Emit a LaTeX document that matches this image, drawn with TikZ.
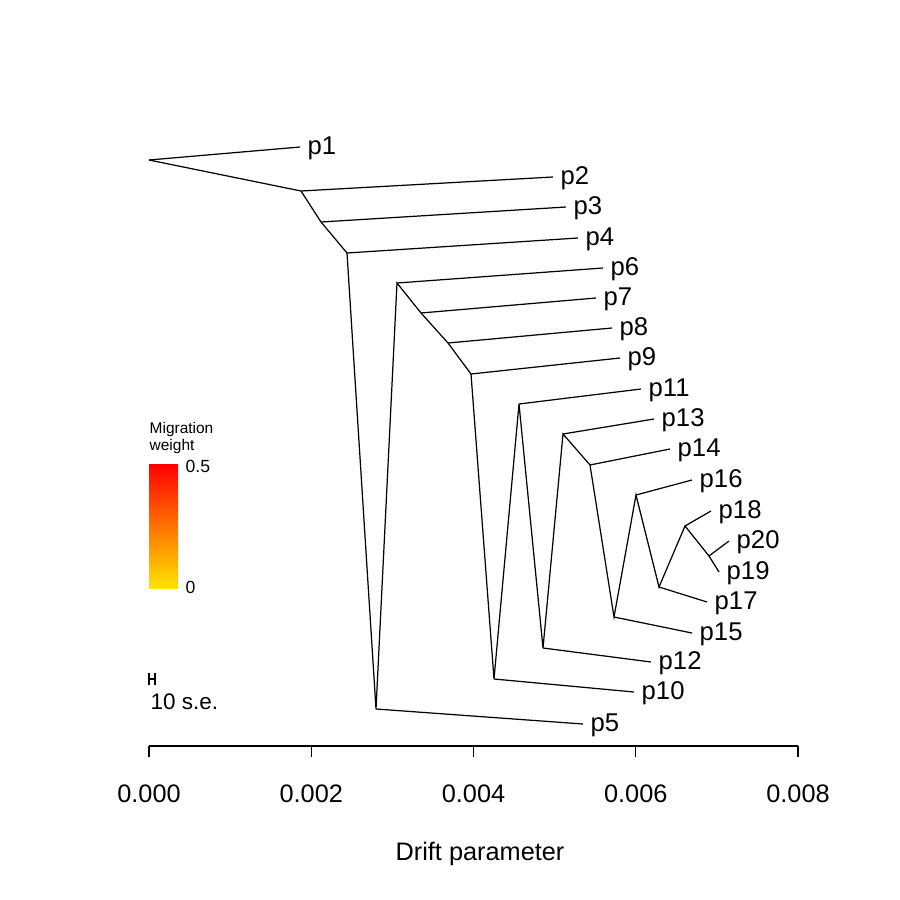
\documentclass[tikz,border=0pt]{standalone}
\usepackage{fontspec}
\setmainfont{Liberation Sans}
\begin{document}
\begin{tikzpicture}[x=0.01cm,y=-0.01cm,
    edge/.style={line width=0.35pt},
    leaf/.style={anchor=mid west,inner sep=0pt,xshift=0.07cm,yshift=0.02cm,font=\fontsize{7.3}{8}\selectfont},
    ticklab/.style={anchor=base,inner sep=0pt,font=\fontsize{7.2}{8}\selectfont},
    small/.style={anchor=base west,inner sep=0pt,font=\fontsize{4.4}{5}\selectfont}]
    \useasboundingbox (0,0) rectangle (900,900);
    % internal nodes of the tree
    \coordinate (r) at (149,160);
    \coordinate (n1) at (301,191);
    \coordinate (n2) at (321,222);
    \coordinate (n3) at (347,253);
    \coordinate (n4) at (376,709);
    \coordinate (n5) at (397,283);
    \coordinate (n6) at (421,313);
    \coordinate (n7) at (448,343);
    \coordinate (n8) at (471,374);
    \coordinate (n9) at (494,679);
    \coordinate (n10) at (519,404);
    \coordinate (n11) at (543,648);
    \coordinate (n12) at (563,434);
    \coordinate (n13) at (590,465);
    \coordinate (n14) at (614,617);
    \coordinate (n15) at (636,495);
    \coordinate (n16) at (659,587);
    \coordinate (n17) at (685,526);
    \coordinate (n18) at (709,556);
    % leaves
    \coordinate (p1) at (300,147);
    \coordinate (p2) at (553,177);
    \coordinate (p3) at (566,207);
    \coordinate (p4) at (578,238);
    \coordinate (p5) at (583,724);
    \coordinate (p6) at (603,268);
    \coordinate (p7) at (596,298);
    \coordinate (p8) at (612,328);
    \coordinate (p9) at (620,358);
    \coordinate (p10) at (634,692);
    \coordinate (p11) at (641,389);
    \coordinate (p12) at (651,662);
    \coordinate (p13) at (654,419);
    \coordinate (p14) at (670,449);
    \coordinate (p15) at (692,633);
    \coordinate (p16) at (692,480);
    \coordinate (p17) at (707,602);
    \coordinate (p18) at (711,511);
    \coordinate (p19) at (719,572);
    \coordinate (p20) at (729,541);

    \draw[edge] (r) -- (p1);
    \draw[edge] (r) -- (n1) -- (n2) -- (n3) -- (n4) -- (n5) -- (n6) -- (n7) -- (n8) -- (n9) -- (n10) -- (n11) -- (n12) -- (n13) -- (n14) -- (n15) -- (n16) -- (n17) -- (n18) -- (p19);
    \draw[edge] (n1) -- (p2);
    \draw[edge] (n2) -- (p3);
    \draw[edge] (n3) -- (p4);
    \draw[edge] (n4) -- (p5);
    \draw[edge] (n5) -- (p6);
    \draw[edge] (n6) -- (p7);
    \draw[edge] (n7) -- (p8);
    \draw[edge] (n8) -- (p9);
    \draw[edge] (n9) -- (p10);
    \draw[edge] (n10) -- (p11);
    \draw[edge] (n11) -- (p12);
    \draw[edge] (n12) -- (p13);
    \draw[edge] (n13) -- (p14);
    \draw[edge] (n14) -- (p15);
    \draw[edge] (n15) -- (p16);
    \draw[edge] (n16) -- (p17);
    \draw[edge] (n17) -- (p18);
    \draw[edge] (n18) -- (p20);

    \foreach \p in {1,...,20}
        \node[leaf] (l\p) at (p\p) {p\p};

    % legend
    \node[small] (mig) at (149,433) {Migration};
    \node[small] (wgt) at (149,450) {weight};
    \shade[top color=red,middle color={rgb,255:red,255;green,95;blue,0},bottom color={rgb,255:red,255;green,228;blue,0}] (149,464) rectangle (178,588);
    \node[small,font=\fontsize{5}{6}\selectfont,anchor=west] (hi) at (185,466) {0.5};
    \node[small,font=\fontsize{5}{6}\selectfont,anchor=west] (lo) at (185,587) {0};

    % error scale
    \draw[edge] (149,673) -- (149,685) (149,679) -- (155,679) (155,673) -- (155,685);
    \node[small,font=\fontsize{6.4}{7}\selectfont] (se) at (150,709) {10 s.e.};

    % axis
    \draw[edge] (149,746) -- (798,746);
    \foreach \i/\t in {0/0.000,1/0.002,2/0.004,3/0.006,4/0.008} {
        \draw[edge] (149+162.25*\i,746) -- (149+162.25*\i,757);
        \node[ticklab] (t\i) at (149+162.25*\i,802) {\t};
    }
    \node[ticklab] (xlab) at (480,860) {Drift parameter};
\end{tikzpicture}
\end{document}
